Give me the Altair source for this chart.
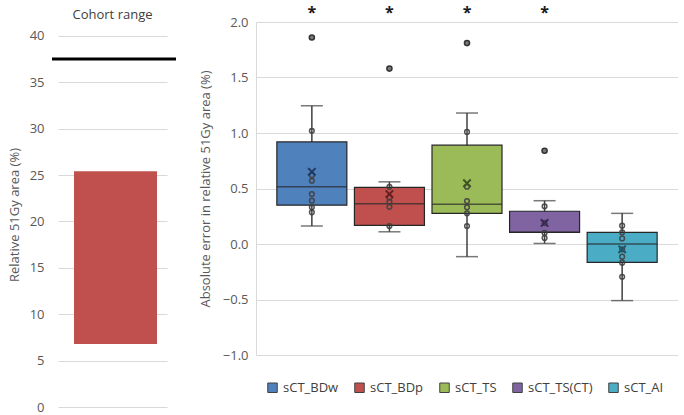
import altair as alt
import pandas as pd

# ---- Left panel: cohort range of the relative 51Gy area ----
cohort_min = 6.8
cohort_max = 25.4
cohort_ref = 37.5
left_ticks = [0, 5, 10, 15, 20, 25, 30, 35, 40]
left_top = 41.5  # a little headroom above the 40 gridline

# ---- Right panel: absolute error per synthetic CT method ----
groups = ["sCT_BDw", "sCT_BDp", "sCT_TS", "sCT_TS(CT)", "sCT_AI"]
fill_colors = ["#4F81BD", "#C0504D", "#9BBB59", "#8064A2", "#4BACC6"]
mean_colors = ["#1F3A60", "#6A1F1D", "#3E5424", "#3A2A55", "#1E5767"]
q1 = [0.35, 0.168, 0.276, 0.105, -0.165]
median = [0.515, 0.363, 0.357, 0.105, 0.0]
q3 = [0.92, 0.51, 0.89, 0.295, 0.105]
whisker_lo = [0.162, 0.11, -0.114, 0.005, -0.51]
whisker_hi = [1.246, 0.56, 1.18, 0.39, 0.276]
means = [0.65, 0.45, 0.547, 0.19, -0.048]
significant = [True, True, True, True, False]
inner_points = [
    [1.02, 0.62, 0.57, 0.45, 0.39, 0.33, 0.285],
    [0.515, 0.42, 0.38, 0.335, 0.162],
    [1.01, 0.516, 0.387, 0.33, 0.276, 0.162],
    [0.34, 0.19, 0.10, 0.055],
    [0.165, 0.105, 0.05, -0.048, -0.114, -0.168, -0.295],
]
outliers = [[1.86], [1.58], [1.81], [0.84], []]
right_ticks = [-1.0, -0.5, 0.0, 0.5, 1.0, 1.5, 2.0]

FONT = "Open Sans"
GRID = "#D9D9D9"
TEXT = "#595959"
LINE = "#404040"
EDGE = "#262626"
NO_FRAME = alt.ViewBackground(stroke=None, strokeOpacity=0)

# ---------------- left chart ----------------
cohort_df = pd.DataFrame({"low": [cohort_min], "high": [cohort_max], "ref": [cohort_ref]})

left_y = alt.Scale(domain=[0, left_top], nice=False)
left_axis = alt.Axis(
    values=left_ticks, title="Relative 51Gy area (%)", grid=True, gridColor=GRID,
    domain=False, ticks=False, labelPadding=14, labelFontSize=13, labelColor=TEXT,
    titleFontSize=13, titleFontWeight="normal", titleColor=TEXT, titlePadding=8,
)

cohort_bar = alt.Chart(cohort_df).mark_bar(color="#C0504D").encode(
    x=alt.value(16), x2=alt.value(99),
    y=alt.Y("low:Q", scale=left_y, axis=left_axis), y2="high:Q",
)
cohort_line = alt.Chart(cohort_df).mark_rule(color="black", strokeWidth=3).encode(
    x=alt.value(-6), x2=alt.value(118), y=alt.Y("ref:Q", scale=left_y),
)
left = alt.layer(cohort_bar, cohort_line).properties(
    width=109, height=385, view=NO_FRAME,
    title=alt.TitleParams("Cohort range", fontSize=13, fontWeight="normal",
                          color="#404040", font=FONT, offset=0),
)

# ---------------- right chart ----------------
box_df = pd.DataFrame({
    "group": groups, "q1": q1, "median": median, "q3": q3,
    "lo": whisker_lo, "hi": whisker_hi, "mean": means, "mean_color": mean_colors,
})
inner_df = pd.DataFrame(
    [{"group": g, "value": v} for g, vals in zip(groups, inner_points) for v in vals]
)
outlier_df = pd.DataFrame(
    [{"group": g, "value": v} for g, vals in zip(groups, outliers) for v in vals]
)
star_df = pd.DataFrame({"group": [g for g, s in zip(groups, significant) if s]})

x_enc = alt.X("group:N", sort=groups,
              scale=alt.Scale(domain=groups, paddingInner=0, paddingOuter=0.22),
              axis=None)
right_y = alt.Scale(domain=[-1, 2], nice=False)
right_axis = alt.Axis(
    values=right_ticks, format=".1f", title="Absolute error in relative 51Gy area (%)",
    grid=True, gridColor=GRID, domain=True, domainColor=GRID, ticks=False,
    labelPadding=8, labelFontSize=13, labelColor=TEXT,
    titleFontSize=13, titleFontWeight="normal", titleColor=TEXT, titlePadding=10,
)

whiskers = alt.Chart(box_df).mark_rule(color=LINE, strokeWidth=1.5).encode(
    x=x_enc, y=alt.Y("lo:Q", scale=right_y, axis=right_axis), y2="hi:Q",
)
cap_lo = alt.Chart(box_df).mark_tick(size=22, thickness=1.5, color=LINE).encode(
    x=x_enc, y=alt.Y("lo:Q", scale=right_y),
)
cap_hi = alt.Chart(box_df).mark_tick(size=22, thickness=1.5, color=LINE).encode(
    x=x_enc, y=alt.Y("hi:Q", scale=right_y),
)
boxes = alt.Chart(box_df).mark_bar(size=70, stroke=EDGE, strokeWidth=1.2).encode(
    x=x_enc, y=alt.Y("q1:Q", scale=right_y), y2="q3:Q",
    fill=alt.Fill(
        "group:N", sort=groups, scale=alt.Scale(domain=groups, range=fill_colors),
        legend=alt.Legend(
            title=None, orient="none", direction="horizontal", legendX=208, legendY=359,
            symbolType="square", symbolSize=90, symbolStrokeColor="#404040",
            symbolStrokeWidth=1, labelFontSize=13, labelColor="#404040",
            labelFont=FONT, labelOffset=4, columnPadding=13, padding=0,
        ),
    ),
)
medians = alt.Chart(box_df).mark_tick(size=70, thickness=1.5, color=EDGE).encode(
    x=x_enc, y=alt.Y("median:Q", scale=right_y),
)
inner = alt.Chart(inner_df).mark_point(
    shape="circle", filled=False, size=22, strokeWidth=1.5, color=LINE, opacity=0.9,
).encode(x=x_enc, y=alt.Y("value:Q", scale=right_y))
outer = alt.Chart(outlier_df).mark_point(
    shape="circle", filled=True, fill="#7A7A7A", stroke="#333333", strokeWidth=1.5,
    size=26, opacity=1,
).encode(x=x_enc, y=alt.Y("value:Q", scale=right_y))
mean_marks = alt.Chart(box_df).mark_point(
    shape="M-1,-1L1,1M-1,1L1,-1", filled=False, size=55, strokeWidth=2, opacity=1,
).encode(
    x=x_enc, y=alt.Y("mean:Q", scale=right_y),
    stroke=alt.Stroke("mean_color:N", scale=None),
)
stars = alt.Chart(star_df).mark_text(
    text="*", fontSize=16, fontWeight="bold", color="#1A1A1A", baseline="middle",
    font=FONT,
).encode(x=x_enc, y=alt.value(-9))

right = alt.layer(
    whiskers, cap_lo, cap_hi, boxes, medians, inner, outer, mean_marks, stars,
).properties(width=422, height=333, view=NO_FRAME)

chart = alt.hconcat(left, right, spacing=21).properties(
    padding={"left": 8, "top": 5, "right": 0, "bottom": 0},
).configure_view(stroke=None, strokeOpacity=0).configure(font=FONT)

chart.save("out.html", embed_options={"renderer": "svg", "actions": False})
